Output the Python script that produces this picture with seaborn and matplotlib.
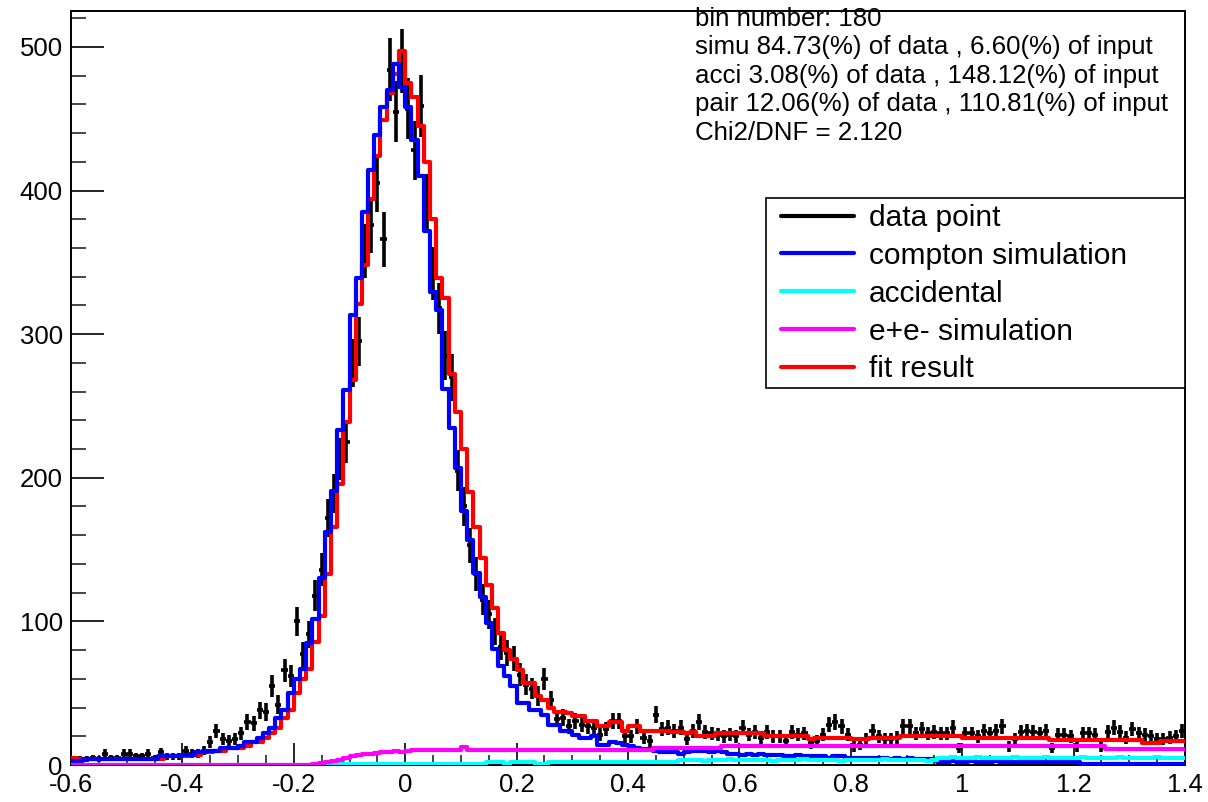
"""
Template fit of the compton peak: data vs simulation components.
"""

import numpy as np
import pandas as pd
import matplotlib
matplotlib.use("Agg")
import matplotlib.pyplot as plt
from matplotlib.lines import Line2D
from matplotlib.patches import Rectangle
from matplotlib.ticker import MultipleLocator, FuncFormatter
import seaborn as sns


N_BINS = 180
X_MIN, X_MAX = -0.6, 1.4

# counts per bin
data_counts = [
    3, 4, 4, 5, 4, 8, 5, 5, 8, 8,
    6, 6, 8, 5, 9, 6, 6, 6, 10, 8,
    8, 10, 16, 24, 18, 17, 18, 22, 30, 29,
    38, 37, 55, 42, 66, 62, 100, 77, 91, 118,
    136, 172, 189, 213, 225, 280, 295, 358, 376, 405,
    366, 484, 455, 490, 457, 428, 459, 392, 342, 318,
    285, 270, 205, 180, 153, 133, 115, 105, 93, 82,
    78, 74, 63, 56, 53, 48, 60, 45, 32, 33,
    27, 31, 28, 27, 26, 21, 25, 31, 31, 20,
    20, 27, 19, 17, 35, 25, 26, 24, 26, 18,
    24, 30, 23, 22, 21, 20, 21, 20, 26, 21,
    23, 19, 23, 20, 20, 17, 23, 21, 22, 15,
    17, 21, 28, 30, 27, 21, 13, 14, 18, 24,
    20, 18, 18, 19, 27, 27, 22, 25, 22, 23,
    22, 22, 26, 12, 22, 22, 20, 24, 22, 24,
    27, 13, 18, 23, 24, 23, 22, 24, 12, 21,
    21, 20, 13, 22, 22, 21, 13, 23, 26, 23,
    19, 25, 22, 21, 20, 18, 18, 19, 20, 24,
]

compton_sim = [
    3, 3, 4, 4, 4, 4, 4, 4, 4, 4,
    4, 4, 4, 4, 6, 6, 6, 6, 7, 7,
    9, 9, 10, 10, 12, 12, 12, 13, 16, 16,
    19, 22, 26, 33, 38, 50, 60, 67, 85, 102,
    130, 162, 191, 233, 261, 313, 339, 385, 414, 439,
    458, 470, 488, 472, 458, 435, 410, 372, 329, 317,
    262, 235, 207, 177, 157, 134, 117, 99, 81, 69,
    62, 55, 43, 43, 38, 38, 35, 28, 28, 24,
    24, 21, 19, 19, 20, 14, 14, 16, 15, 14,
    13, 12, 11, 11, 10, 9, 9, 9, 8, 9,
    10, 10, 10, 9, 10, 9, 8, 8, 7, 8,
    7, 8, 7, 7, 7, 6, 6, 7, 6, 6,
    6, 6, 5, 6, 6, 5, 5, 5, 5, 5,
    5, 5, 4, 5, 4, 5, 4, 4, 4, 4,
    2, 2, 3, 2, 2, 3, 2, 2, 2, 3,
    2, 2, 2, 2, 2, 2, 2, 2, 2, 2,
    2, 2, 2, 1, 1, 1, 1, 1, 1, 1,
    1, 1, 1, 1, 1, 1, 1, 1, 1, 1,
]

accidental = [
    0, 0, 0, 0, 0, 0, 0, 0, 0, 0,
    0, 0, 0, 0, 0, 0, 0, 0, 0, 0,
    0, 0, 0, 0, 0, 0, 0, 0, 0, 0,
    0, 0, 0, 0, 0, 0, 0, 0, 0, 0,
    1, 1, 1, 1, 1, 1, 1, 1, 1, 1,
    1, 1, 1, 1, 1, 1, 1, 1, 1, 1,
    1, 1, 1, 1, 1, 1, 1, 2, 2, 2,
    1, 2, 2, 2, 2, 1, 1, 2, 2, 2,
    2, 2, 2, 2, 2, 2, 2, 2, 2, 2,
    2, 2, 2, 2, 2, 2, 2, 2, 3.5, 3.5,
    3.5, 3.5, 3, 3.5, 3.5, 3.5, 4, 3.5, 3.5, 3.5,
    3.5, 3.5, 3.5, 3, 3.5, 3.5, 3.5, 3.5, 4, 3.5,
    3.5, 3.5, 3.5, 3.5, 3, 3.5, 3.5, 3.5, 3.5, 3.5,
    3.5, 4, 3.5, 3.5, 3.5, 3.5, 3.5, 3.5, 3, 3.5,
    5, 5, 5.5, 5, 5, 5, 5.5, 5, 5, 5,
    5, 5, 5.5, 5, 5, 5, 5, 5.5, 5, 5,
    5, 5, 5, 5.5, 5, 5, 5, 5, 5, 5.5,
    5, 5, 5, 5, 5, 5.5, 5, 5, 5, 5,
]

pair_sim = [
    0, 0, 0, 0, 0, 0, 0, 0, 0, 0,
    0, 0, 0, 0, 0, 0, 0, 0, 0, 0,
    0, 0, 0, 0, 0, 0, 0, 0, 0, 0,
    0, 0, 0, 0, 0, 0, 0, 0, 0, 0.5,
    1.5, 2.3, 3, 3.5, 4.7, 6, 7, 7.5, 8, 8.5,
    9, 9, 9.5, 9.3, 9.5, 10.5, 10.5, 10.5, 10.5, 10.5,
    10.5, 10.5, 10.5, 12.8, 10.5, 10.5, 10.5, 10.5, 10.5, 10.5,
    10.5, 10.5, 10.5, 10.5, 10.5, 10.5, 10.5, 10.5, 10.5, 10.5,
    10.5, 10.5, 10.5, 10.5, 10.5, 10.5, 10.5, 10.5, 10.5, 10.5,
    10.5, 10.5, 10.5, 10.5, 12, 12, 12, 12, 12, 12,
    12, 12, 12, 12, 12, 13, 13, 13, 13, 13,
    13, 13, 13, 13, 13, 13, 13, 13, 13, 13,
    13, 13, 13, 13, 13, 13, 13, 13, 13, 13,
    13, 13, 13, 13, 13, 13, 13, 13, 13, 13,
    13, 13, 13, 13, 13, 13, 13, 13, 13, 13,
    13, 13, 13, 13, 13, 13, 13, 13, 13, 13,
    13, 13, 13, 13, 13, 13, 13, 11, 11, 11,
    11, 11, 11, 11, 11, 11, 11, 11, 11, 11,
]

fit_result = [
    5, 4, 4, 4, 4, 4, 4, 4, 4, 4,
    4, 4, 4, 4, 4, 6, 6, 6, 6, 7,
    7, 9, 9, 10, 10, 12, 12, 12, 13, 16,
    16, 19, 22, 26, 33, 38, 50, 60, 67, 86,
    104, 133, 166, 196, 239, 268, 321, 348, 394, 424,
    449, 468, 481, 497, 475, 465, 445, 420, 380, 339,
    325, 272, 246, 220, 190, 166, 144, 125, 109, 92,
    80, 74, 66, 57, 57, 48, 45, 40, 37, 37,
    36, 34, 34, 31, 31, 27, 27, 30, 30, 24,
    27, 27, 24, 24, 24, 24, 24, 23, 23, 22,
    23, 20, 20, 20, 22, 22, 22, 22, 22, 22,
    22, 22, 20, 20, 20, 20, 20, 20, 20, 18,
    19, 19, 19, 19, 19, 19, 18, 18, 18, 19,
    19, 19, 19, 19, 20, 20, 20, 20, 20, 20,
    20, 20, 20, 20, 19, 19, 19, 19, 19, 19,
    19, 19, 19, 18.5, 18.5, 18.5, 18.5, 18.5, 17.5, 17.5,
    17.5, 17.5, 17.5, 17.5, 17.5, 17.5, 17.5, 17.5, 17.5, 17.5,
    17.5, 17.5, 17.5, 15, 15, 15, 17, 17, 17, 17,
]

stats_lines = [
    "bin number: 180",
    "simu 84.73(%) of data , 6.60(%) of input",
    "acci 3.08(%) of data , 148.12(%) of input",
    "pair 12.06(%) of data , 110.81(%) of input",
    "Chi2/DNF = 2.120",
]

legend_labels = ["data point", "compton simulation", "accidental",
                 "e+e- simulation", "fit result"]
legend_colors = ["black", "blue", "cyan", "magenta", "red"]


sns.set_theme(style="ticks")
plt.rcParams["font.family"] = ["Liberation Sans", "DejaVu Sans"]
plt.rcParams["axes.unicode_minus"] = False
plt.rcParams["text.color"] = "black"

edges = np.linspace(X_MIN, X_MAX, N_BINS + 1)
centers = 0.5 * (edges[:-1] + edges[1:])
half_width = 0.5 * (edges[1] - edges[0])
data_arr = np.array(data_counts, dtype=float)

hist_df = pd.DataFrame({
    "x": centers,
    "fit": fit_result,
    "compton": compton_sim,
    "acci": accidental,
    "pair": pair_sim,
})

fig = plt.figure(figsize=(12.08, 8.02), dpi=100)
ax = fig.add_axes([0.0588, 0.0461, 0.9222, 0.9402])

# data points with poisson errors
ax.errorbar(centers, data_arr, xerr=half_width, yerr=np.sqrt(data_arr),
            fmt="none", ecolor="black", elinewidth=2.6, capsize=0, zorder=2)

# component histograms
components = [
    ("fit", "red", 3),
    ("compton", "blue", 4),
    ("acci", "cyan", 5),
    ("pair", "magenta", 6),
]
for col, color, z in components:
    sns.histplot(data=hist_df, x="x", weights=col, bins=edges.tolist(),
                 element="step", fill=False, color=color, linewidth=3,
                 ax=ax, zorder=z)

ax.set_xlim(X_MIN, X_MAX)
ax.set_ylim(0, 525)
ax.set_xlabel("")
ax.set_ylabel("")


def root_fmt(v, pos):
    if abs(v) < 1e-9:
        return "0"
    return f"{round(v, 3):g}"


ax.xaxis.set_major_locator(MultipleLocator(0.2))
ax.xaxis.set_minor_locator(MultipleLocator(0.05))
ax.yaxis.set_major_locator(MultipleLocator(100))
ax.yaxis.set_minor_locator(MultipleLocator(20))
ax.xaxis.set_major_formatter(FuncFormatter(root_fmt))
ax.yaxis.set_major_formatter(FuncFormatter(root_fmt))

ax.tick_params(axis="x", which="major", direction="in", length=15.8, width=1.2,
               labelsize=18.5, pad=6, colors="black")
ax.tick_params(axis="x", which="minor", direction="in", length=7.2, width=1.2)
ax.tick_params(axis="y", which="major", direction="in", length=23.8, width=1.2,
               labelsize=18.5, pad=6, colors="black")
ax.tick_params(axis="y", which="minor", direction="in", length=10.8, width=1.2)
for spine in ax.spines.values():
    spine.set_color("black")
    spine.set_linewidth(1.4)

# legend box (ROOT TLegend style) with the entries laid out inside it
fig.patches.append(Rectangle((766 / 1208, 1 - 388 / 802), 419 / 1208, 190 / 802,
                             transform=fig.transFigure, facecolor="white",
                             edgecolor="black", linewidth=1.2, zorder=4))
handles = [Line2D([], [], color=c, linewidth=3) for c in legend_colors]
leg = fig.legend(handles, legend_labels, loc="upper left",
                 bbox_to_anchor=(781 / 1208, 1 - 204 / 802),
                 bbox_transform=fig.transFigure,
                 fontsize=21.5, frameon=False, borderpad=0,
                 labelspacing=0.33, handlelength=2.45, handletextpad=0.5,
                 borderaxespad=0)
leg.set_zorder(5)

for k, line in enumerate(stats_lines):
    fig.text(695 / 1208, 1 - (25.5 + 28.5 * k) / 802, line,
             fontsize=18.6, va="baseline", ha="left", color="black")

fig.savefig("out.png", dpi=100)
